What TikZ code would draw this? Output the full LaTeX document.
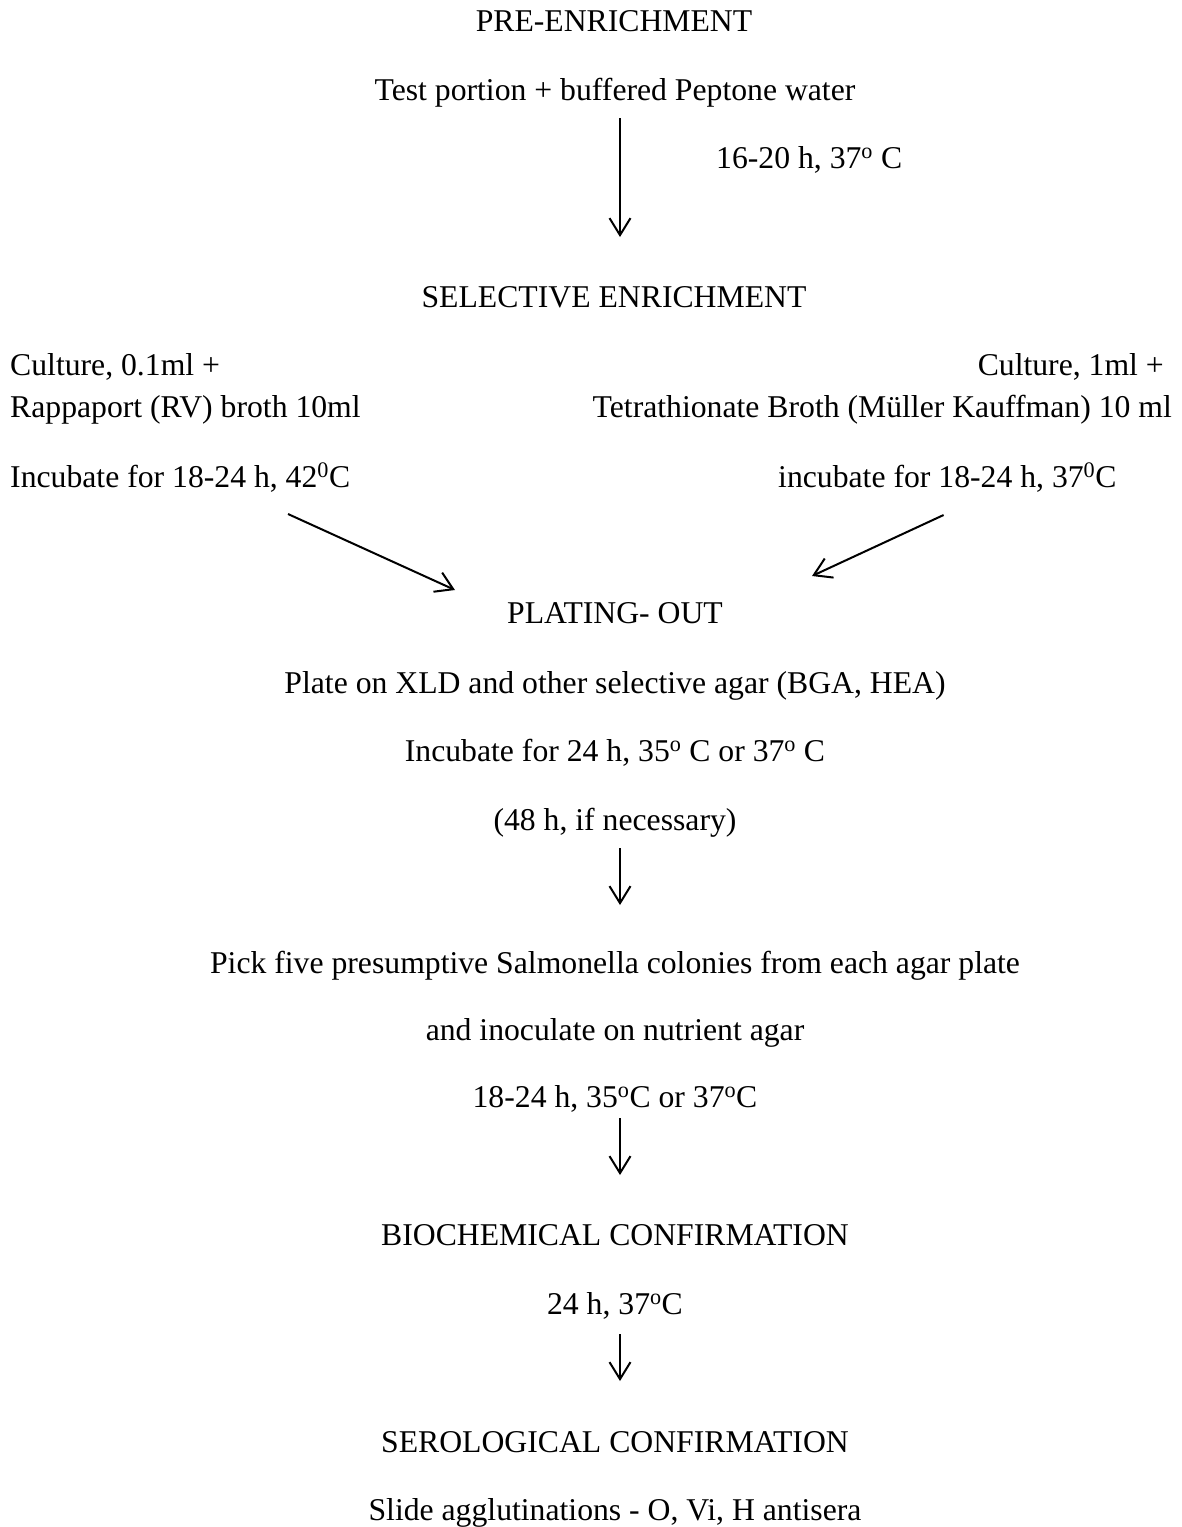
\documentclass[tikz,border=0pt]{standalone}
\usepackage{fontspec}
\setmainfont{Liberation Serif}
\usetikzlibrary{arrows.meta}
\newcommand{\supo}{\textsuperscript{o}}
\newcommand{\supz}{\textsuperscript{0}}
\begin{document}
\begin{tikzpicture}[x=1pt,y=-1pt,
  txt/.style={inner sep=0pt, font=\fontsize{31.7}{38}\selectfont},
  ctr/.style={txt, anchor=base},
  lft/.style={txt, anchor=base west},
  rgt/.style={txt, anchor=base east},
  flow/.style={line width=2pt, -{Straight Barb[length=17pt,width=21pt,line width=2pt]}}]
\useasboundingbox[fill=white] (0,0) rectangle (1182,1527);

\node[ctr] (pre) at (614,31) {PRE-ENRICHMENT};
\node[ctr] (test) at (615,100) {Test portion + buffered Peptone water};
\node[lft] (t1) at (716,168) {16-20 h, 37\supo{} C};
\node[ctr] (sel) at (614,307) {SELECTIVE ENRICHMENT};

\node[lft] (c1) at (10,375) {Culture, 0.1ml +};
\node[lft] (r1) at (10,417) {Rappaport (RV) broth 10ml};
\node[lft] (i1) at (10,487) {Incubate for 18-24 h, 42\supz C};

\node[rgt] (c2) at (1164,375) {Culture, 1ml +};
\node[rgt] (r2) at (1172,417) {Tetrathionate Broth (Müller Kauffman) 10 ml};
\node[lft] (i2) at (778,487) {incubate for 18-24 h, 37\supz C};

\node[ctr] (plat) at (615,623) {PLATING- OUT};
\node[ctr] (plate) at (615,693) {Plate on XLD and other selective agar (BGA, HEA)};
\node[ctr] (inc) at (615,761) {Incubate for 24 h, 35\supo{} C or 37\supo{} C};
\node[ctr] (nec) at (615,830) {(48 h, if necessary)};

\node[ctr] (pick) at (615,973) {Pick five presumptive Salmonella colonies from each agar plate};
\node[ctr] (inoc) at (615,1040) {and inoculate on nutrient agar};
\node[ctr] (t2) at (615,1107) {18-24 h, 35\supo C or 37\supo C};

\node[ctr] (bio) at (615,1245) {BIOCHEMICAL CONFIRMATION};
\node[ctr] (t3) at (615,1314) {24 h, 37\supo C};
\node[ctr] (sero) at (615,1452) {SEROLOGICAL CONFIRMATION};
\node[ctr] (slide) at (615,1520) {Slide agglutinations - O, Vi, H antisera};

\draw[flow] ([xshift=5pt,yshift=-18pt]test.base) -- ([xshift=6pt,yshift=70pt]sel.base);
\draw[flow] ([xshift=278pt,yshift=-27pt]i1.base west) -- ([xshift=-160pt,yshift=33pt]plat.base);
\draw[flow] ([xshift=-173pt,yshift=-28pt]i2.base east) -- ([xshift=197pt,yshift=47pt]plat.base);
\draw[flow] ([xshift=5pt,yshift=-18pt]nec.base) -- ([xshift=5pt,yshift=68pt]pick.base);
\draw[flow] ([xshift=5pt,yshift=-11pt]t2.base) -- ([xshift=5pt,yshift=70pt]bio.base);
\draw[flow] ([xshift=5pt,yshift=-20pt]t3.base) -- ([xshift=5pt,yshift=71pt]sero.base);
\end{tikzpicture}
\end{document}
